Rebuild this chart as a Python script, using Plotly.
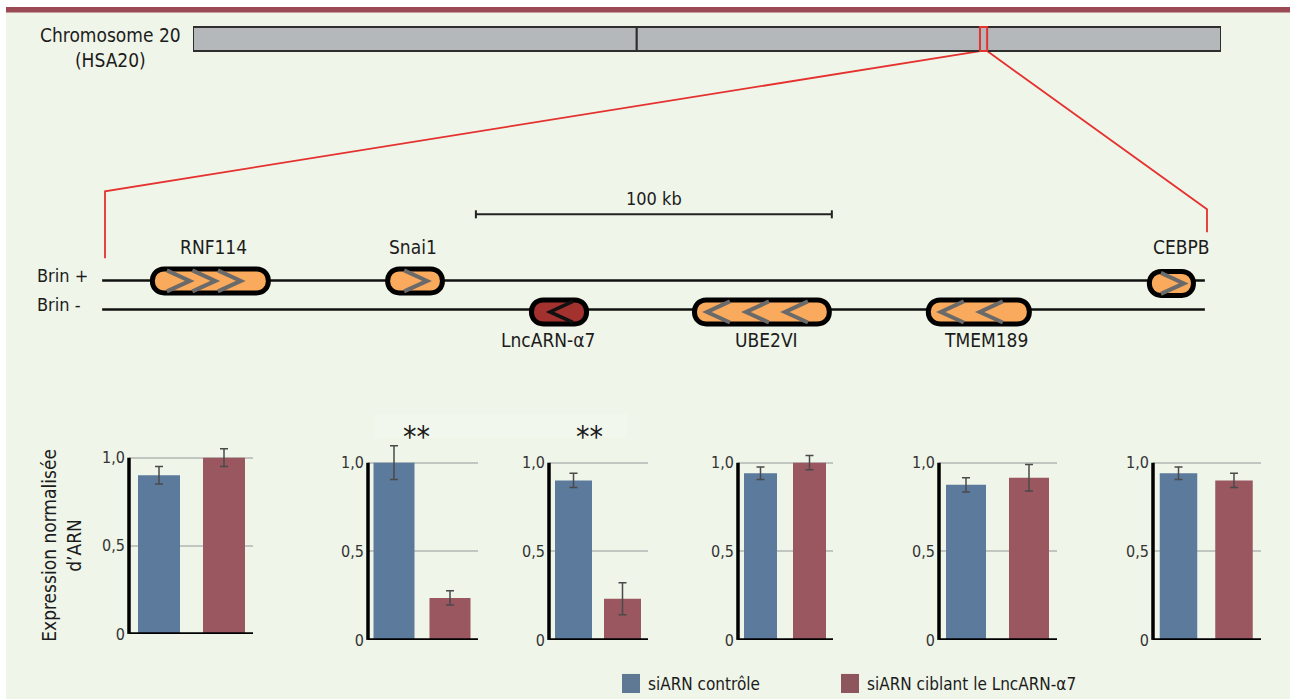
import plotly.graph_objects as go

W, H = 1290, 699
FONT = "Liberation Sans Narrow, DejaVu Sans Condensed, Arial Narrow, sans-serif"
TXT = "#1c1c1c"

# ---------------- data ----------------
chrom_label = "Chromosome 20<br>(HSA20)"
chrom_length_mb = 64.4
centromere_mb = 27.8
zoom_window_mb = [49.3, 49.75]

region_length_kb = 309.6
strand_span_kb = [-0.8, 309.0]
strand_labels = ["Brin +", "Brin -"]
scale_bar_kb = [104.2, 204.2]
scale_label = "100 kb"

genes = ["RNF114", "Snai1", "LncARN-α7", "UBE2VI", "TMEM189", "CEBPB"]
gene_start_kb = [12.6, 78.7, 119.1, 164.9, 230.6, 292.7]
gene_end_kb = [46.6, 95.5, 136.0, 204.2, 260.4, 306.5]
gene_strand = ["+", "+", "-", "-", "-", "+"]
gene_arrows = [3, 1, 1, 3, 2, 1]
gene_is_lnc = [False, False, True, False, False, False]

ctrl_mean = [0.90, 1.00, 0.90, 0.94, 0.875, 0.94]
ctrl_err = [0.05, 0.095, 0.04, 0.035, 0.04, 0.035]
kd_mean = [1.00, 0.237, 0.232, 1.00, 0.915, 0.90]
kd_err = [0.05, 0.04, 0.09, 0.04, 0.075, 0.04]
significance = ["", "**", "**", "", "", ""]
y_tick_vals = [0, 0.5, 1.0]
y_tick_text = ["0", "0,5", "1,0"]
y_title = "Expression normalisée<br>d’ARN"
legend_labels = ["siARN contrôle", "siARN ciblant le LncARN-α7"]

# ---------------- style / layout ----------------
BG = "#EFF5E8"
C_CTRL = "#5C7A9C"
C_KD = "#9A5760"
C_CTRL_LEG = "#5F7893"
C_KD_LEG = "#8D565C"
C_ORANGE = "#F9AA5C"
C_LNC = "#A3322F"
C_RED = "#E5312F"
C_CHEV = "#6A6A6A"

FIG_H = 710  # rendered height; the photographed page is fitted to 699 px

CHR_X0, CHR_X1, CHR_Y0, CHR_Y1 = 193, 1221, 27, 51
REG_X0, REG_X1 = 105, 1207
PPK = (REG_X1 - REG_X0) / region_length_kb
KB_LO, KB_HI = -15, 325
STRAND_Y = {"+": 280, "-": 309}
BOX_Y = {"+": 280.5, "-": 311.5}
label_xshift = [3, -2, -11, 5, 7, 10]
chev_lead_px = [17, 19, 21, 15, 15, 14]
chev_pitch_px = [25.5, 0, 0, 39, 39, 0]

def chrom_px(mb):
    return CHR_X0 + mb / chrom_length_mb * (CHR_X1 - CHR_X0)

def kb_px(kb):
    return REG_X0 + kb * PPK

fig = go.Figure()
shapes = []
ann = []

shapes.append(dict(type="rect", xref="x", yref="y", x0=0, x1=W, y0=0, y1=7,
                   fillcolor="white", line_width=0, layer="below"))
shapes.append(dict(type="rect", xref="x", yref="y", x0=0, x1=6, y0=0, y1=H,
                   fillcolor="white", line_width=0, layer="below"))
shapes.append(dict(type="rect", xref="x", yref="y", x0=6, x1=W, y0=7, y1=12.5,
                   fillcolor="#9B4A55", line_width=0, layer="below"))
shapes.append(dict(type="rect", xref="x", yref="y", x0=375, x1=627, y0=413, y1=437,
                   fillcolor="#F1F7EC", line_width=0, layer="below"))

for a, b in [(0, centromere_mb), (centromere_mb, chrom_length_mb)]:
    fig.add_trace(go.Scatter(x=[a, b, b, a, a], y=[CHR_Y0, CHR_Y0, CHR_Y1, CHR_Y1, CHR_Y0],
                             fill="toself", fillcolor="#B5B8BA", mode="lines",
                             line=dict(color="#2E2E2E", width=2), xaxis="x2", yaxis="y",
                             hoverinfo="skip", showlegend=False))
shapes.append(dict(type="rect", xref="x2", yref="y", x0=zoom_window_mb[0], x1=zoom_window_mb[1],
                   y0=CHR_Y0, y1=CHR_Y1, line=dict(color=C_RED, width=2)))

lx = [chrom_px(zoom_window_mb[0]), kb_px(0), kb_px(0), None,
      chrom_px(zoom_window_mb[1]), kb_px(region_length_kb), kb_px(region_length_kb)]
ly = [CHR_Y1, 191, 258, None, CHR_Y1, 209, 232]
fig.add_trace(go.Scatter(x=lx, y=ly, mode="lines", line=dict(color=C_RED, width=1.8),
                         xaxis="x", yaxis="y", hoverinfo="skip", showlegend=False))

ann.append(dict(text=chrom_label, x=110, y=47, xref="x", yref="y", showarrow=False,
                font=dict(family=FONT, size=19, color=TXT), align="center", yanchor="middle"))

for s, lab in zip(["+", "-"], strand_labels):
    fig.add_trace(go.Scatter(x=strand_span_kb, y=[STRAND_Y[s]] * 2, mode="lines",
                             line=dict(color="#111", width=2.5), xaxis="x3", yaxis="y",
                             hoverinfo="skip", showlegend=False))
    ann.append(dict(text=lab, x=35, y=STRAND_Y[s] - 5, xref="x", yref="y", showarrow=False,
                    xanchor="left", yanchor="middle", font=dict(family=FONT, size=18, color=TXT)))

sb = scale_bar_kb
fig.add_trace(go.Scatter(x=[sb[0], sb[1], None, sb[0], sb[0], None, sb[1], sb[1]],
                         y=[214, 214, None, 210, 218, None, 210, 218], mode="lines",
                         line=dict(color="#222", width=2), xaxis="x3", yaxis="y",
                         hoverinfo="skip", showlegend=False))
ann.append(dict(text=scale_label, x=(sb[0] + sb[1]) / 2, y=198, xref="x3", yref="y",
                showarrow=False, font=dict(family=FONT, size=18, color=TXT)))

def capsule(x0, x1, yc, hh):
    r = hh / PPK
    k = r * 4 / 3
    return (f"M {x0 + r},{yc - hh} L {x1 - r},{yc - hh} "
            f"C {x1 - r + k},{yc - hh} {x1 - r + k},{yc + hh} {x1 - r},{yc + hh} "
            f"L {x0 + r},{yc + hh} "
            f"C {x0 + r - k},{yc + hh} {x0 + r - k},{yc - hh} {x0 + r},{yc - hh} Z")

for i, g in enumerate(genes):
    s = gene_strand[i]
    yc = BOX_Y[s] + (2.5 if g == "CEBPB" else 0)
    inset = 2.5 / PPK
    shapes.append(dict(type="path", xref="x3", yref="y",
                       path=capsule(gene_start_kb[i] + inset, gene_end_kb[i] - inset, yc, 12),
                       fillcolor=C_LNC if gene_is_lnc[i] else C_ORANGE,
                       line=dict(color="#000", width=5)))
    for j in range(gene_arrows[i]):
        xa = kb_px(gene_start_kb[i]) + chev_lead_px[i] + j * chev_pitch_px[i]
        xb = xa + 23
        hh = 10.5
        if s == "+":
            xs, ys = [xa, xb, xa], [yc - hh, yc, yc + hh]
        else:
            xs, ys = [xb, xa, xb], [yc - hh, yc, yc + hh]
        xs = [(v - REG_X0) / PPK for v in xs]
        path = f"M {xs[0]},{ys[0]} L {xs[1]},{ys[1]} L {xs[2]},{ys[2]}"
        shapes.append(dict(type="path", xref="x3", yref="y", path=path,
                           line=dict(color="#111" if gene_is_lnc[i] else C_CHEV,
                                     width=3.5 if gene_is_lnc[i] else 4)))
    ly_lab = 247 if s == "+" else 340
    ann.append(dict(text=g, x=(gene_start_kb[i] + gene_end_kb[i]) / 2, y=ly_lab,
                    xref="x3", yref="y", xshift=label_xshift[i], showarrow=False,
                    font=dict(family=FONT, size=19, color=TXT)))

panel_axis_left = [129, 368, 549, 738, 939, 1153]
panel_axis_right = [253, 478, 648, 833, 1057, 1261]
panel_centers = [(159, 224), (394, 450), (573.5, 622.5), (760.5, 809.5), (966, 1029), (1178.5, 1234)]
panel_bar_w = [42, 41, 37, 33, 40, 37.5]
panel_zero_y = [633, 639, 639, 639, 639, 639]
panel_unit = [176, 177, 177, 177, 177, 177]
YMAX = 1.2

layout_axes = {}
for i in range(len(genes)):
    n = i + 4
    xa, ya = f"x{n}", f"y{n}"
    c0, c1 = panel_centers[i]
    unit = c1 - c0
    bw = panel_bar_w[i] / unit
    for xv, val, err, col in [(0, ctrl_mean[i], ctrl_err[i], C_CTRL), (1, kd_mean[i], kd_err[i], C_KD)]:
        fig.add_trace(go.Bar(x=[xv], y=[val], width=[bw], marker=dict(color=col, line_width=0),
                             error_y=dict(type="data", array=[err], color="#4A4A4A",
                                          thickness=1.5, width=4),
                             xaxis=xa, yaxis=ya, showlegend=False, hoverinfo="skip"))
    z = panel_zero_y[i]
    top = z - YMAX * panel_unit[i]
    layout_axes[f"xaxis{n}"] = dict(domain=[panel_axis_left[i] / W, panel_axis_right[i] / W],
                                    range=[(panel_axis_left[i] - c0) / unit, (panel_axis_right[i] - c0) / unit],
                                    visible=False, anchor=ya, fixedrange=True)
    layout_axes[f"yaxis{n}"] = dict(domain=[(H - z) / H, (H - top) / H], range=[0, YMAX],
                                    anchor=xa, tickvals=y_tick_vals, ticktext=y_tick_text,
                                    showgrid=True, gridcolor="#C2C6C1", gridwidth=2,
                                    zeroline=False, showline=False, ticks="",
                                    tickfont=dict(family=FONT, size=16, color="#333"),
                                    ticklabelstandoff=3, fixedrange=True)
    shapes.append(dict(type="line", xref=f"{xa} domain", yref=ya, x0=0, x1=0, y0=0, y1=1.0,
                       line=dict(color="#000", width=3.5)))
    shapes.append(dict(type="line", xref=f"{xa} domain", yref=ya, x0=0, x1=1, y0=0, y1=0,
                       line=dict(color="#000", width=3.5)))
    if significance[i]:
        ann.append(dict(text=significance[i], x=(panel_axis_left[i] + panel_axis_right[i]) / 2 - 5 - 2 * i,
                        y=436, xref="x", yref="y", showarrow=False,
                        font=dict(family=FONT, size=30, color=TXT)))

ann.append(dict(text=y_title, x=62, y=545, xref="x", yref="y", showarrow=False, textangle=-90,
                font=dict(family=FONT, size=19, color=TXT), align="center"))

for x0, col, lab in [(622, C_CTRL_LEG, legend_labels[0]), (841, C_KD_LEG, legend_labels[1])]:
    shapes.append(dict(type="rect", xref="x", yref="y", x0=x0, x1=x0 + 18, y0=673, y1=692,
                       fillcolor=col, line_width=0))
    ann.append(dict(text=lab, x=x0 + 24, y=683, xref="x", yref="y", showarrow=False,
                    xanchor="left", yanchor="middle", font=dict(family=FONT, size=17, color=TXT)))

fig.update_layout(
    width=W, height=FIG_H, autosize=False, margin=dict(l=0, r=0, t=0, b=0, pad=0),
    paper_bgcolor=BG, plot_bgcolor="rgba(0,0,0,0)",
    xaxis=dict(domain=[0, 1], range=[0, W], visible=False, anchor="y", fixedrange=True),
    yaxis=dict(domain=[0, 1], range=[H, 0], visible=False, anchor="x", fixedrange=True),
    xaxis2=dict(domain=[CHR_X0 / W, CHR_X1 / W], range=[0, chrom_length_mb], visible=False,
                anchor="y", fixedrange=True),
    xaxis3=dict(domain=[kb_px(KB_LO) / W, kb_px(KB_HI) / W], range=[KB_LO, KB_HI], visible=False,
                anchor="y", fixedrange=True),
    shapes=shapes, annotations=ann, showlegend=False, barmode="overlay",
    **layout_axes,
)

fig.write_html("out.html", config={"displayModeBar": False, "responsive": False})
with open("out.html", "r", encoding="utf-8") as f:
    html = f.read()
html = html.replace("<head>", "<head><style>html,body{margin:0;padding:0;background:#EFF5E8;}</style>", 1)
with open("out.html", "w", encoding="utf-8") as f:
    f.write(html)
